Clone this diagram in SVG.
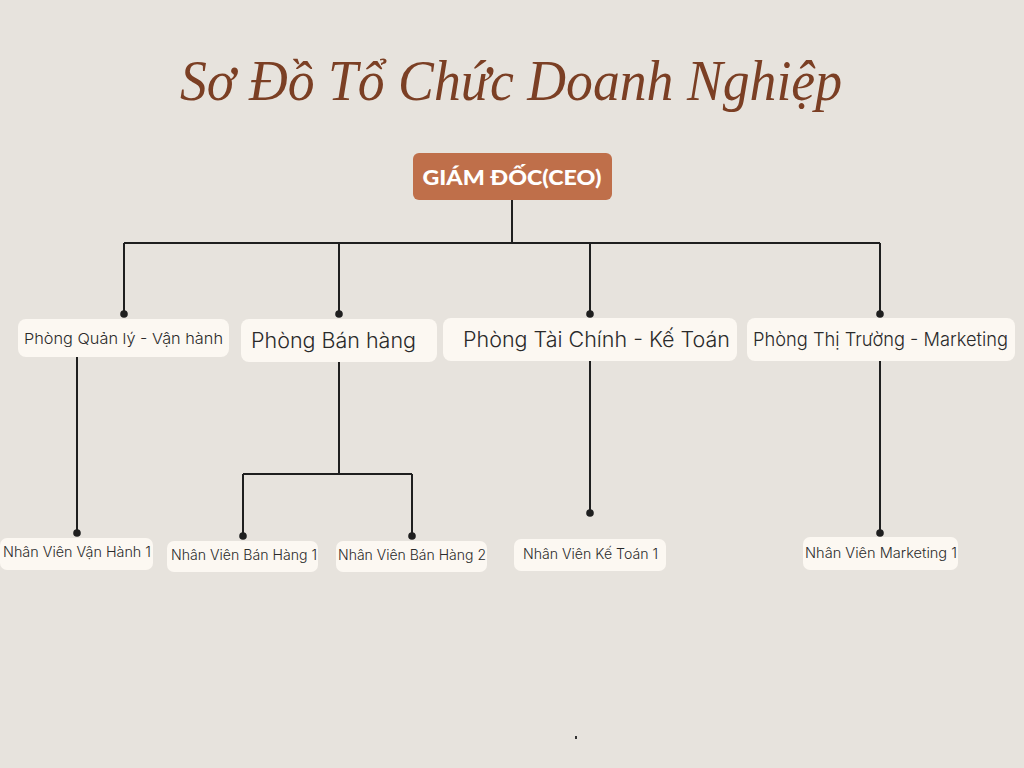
<svg xmlns="http://www.w3.org/2000/svg" width="1024" height="768" viewBox="0 0 1024 768">
<defs>
<style>
.bg{fill:#e7e3dd}
.title{font-family:"Liberation Serif",serif;font-style:italic;font-size:56px;fill:#7b3f24}
.ceo{fill:#bf6f4a}
.ceot{font-family:"Lato","Open Sans",sans-serif;font-weight:900;font-size:21px;fill:#ffffff}
.box{fill:#fcf8f2}
.t{font-family:"Inter","Noto Sans",sans-serif;font-weight:300;fill:#2a2a2a}
.lines{stroke:#1f1f1f;stroke-width:2;fill:none}
.dot{fill:#1f1f1f}
</style>
</defs>
<rect class="bg" x="0" y="0" width="1024" height="768"/>
<text class="title" x="511" y="100" text-anchor="middle" textLength="662" lengthAdjust="spacingAndGlyphs">Sơ Đồ Tổ Chức Doanh Nghiệp</text>

<g id="connectors">
<path class="lines" d="M512 200 V243 M124 243 H880 M124 243 V314 M339 243 V314 M590 243 V314 M880 243 V314"/>
<path class="lines" d="M77 357 V533 M339 362 V474 M243 474 H412 M243 474 V536 M412 474 V536 M590 361 V513 M880 361 V533"/>
<circle class="dot" cx="124" cy="314" r="3.8"/>
<circle class="dot" cx="339" cy="314" r="3.8"/>
<circle class="dot" cx="590" cy="314" r="3.8"/>
<circle class="dot" cx="880" cy="314" r="3.8"/>
<circle class="dot" cx="77" cy="533" r="3.8"/>
<circle class="dot" cx="243" cy="536" r="3.8"/>
<circle class="dot" cx="412" cy="536" r="3.8"/>
<circle class="dot" cx="590" cy="513" r="3.8"/>
<circle class="dot" cx="880" cy="533" r="3.8"/>
</g>

<g id="ceo">
<rect class="ceo" x="413" y="153" width="199" height="47" rx="6"/>
<text class="ceot" x="512" y="185" text-anchor="middle" textLength="179" lengthAdjust="spacingAndGlyphs">GIÁM ĐỐC(CEO)</text>
</g>

<g id="phong-quan-ly">
<rect class="box" x="18" y="319" width="211" height="38" rx="8"/>
<text class="t" x="24" y="344" font-size="15" textLength="199" lengthAdjust="spacingAndGlyphs">Phòng Quản lý - Vận hành</text>
</g>
<g id="phong-ban-hang">
<rect class="box" x="241" y="319" width="196" height="43" rx="8"/>
<text class="t" x="251" y="348" font-size="21" textLength="165" lengthAdjust="spacingAndGlyphs">Phòng Bán hàng</text>
</g>
<g id="phong-tai-chinh">
<rect class="box" x="443" y="318" width="294" height="43" rx="8"/>
<text class="t" x="463" y="347" font-size="21" textLength="267" lengthAdjust="spacingAndGlyphs">Phòng Tài Chính - Kế Toán</text>
</g>
<g id="phong-marketing">
<rect class="box" x="747" y="318" width="268" height="43" rx="8"/>
<text class="t" x="753" y="346" font-size="19" textLength="255" lengthAdjust="spacingAndGlyphs">Phòng Thị Trường - Marketing</text>
</g>

<g id="nv-van-hanh-1">
<rect class="box" x="0" y="538" width="153" height="32" rx="7"/>
<text class="t" x="3" y="557" font-size="14" textLength="148" lengthAdjust="spacingAndGlyphs">Nhân Viên Vận Hành 1</text>
</g>
<g id="nv-ban-hang-1">
<rect class="box" x="167" y="541" width="151" height="31" rx="7"/>
<text class="t" x="171" y="560" font-size="14" textLength="146" lengthAdjust="spacingAndGlyphs">Nhân Viên Bán Hàng 1</text>
</g>
<g id="nv-ban-hang-2">
<rect class="box" x="336" y="541" width="151" height="31" rx="7"/>
<text class="t" x="338" y="560" font-size="14" textLength="148" lengthAdjust="spacingAndGlyphs">Nhân Viên Bán Hàng 2</text>
</g>
<g id="nv-ke-toan-1">
<rect class="box" x="514" y="539" width="152" height="32" rx="7"/>
<text class="t" x="523" y="559" font-size="14" textLength="135" lengthAdjust="spacingAndGlyphs">Nhân Viên Kế Toán 1</text>
</g>
<g id="nv-marketing-1">
<rect class="box" x="803" y="537" width="155" height="33" rx="7"/>
<text class="t" x="805" y="558" font-size="14" textLength="152" lengthAdjust="spacingAndGlyphs">Nhân Viên Marketing 1</text>
</g>
<rect x="575" y="736" width="2" height="3" fill="#333"/>
</svg>
